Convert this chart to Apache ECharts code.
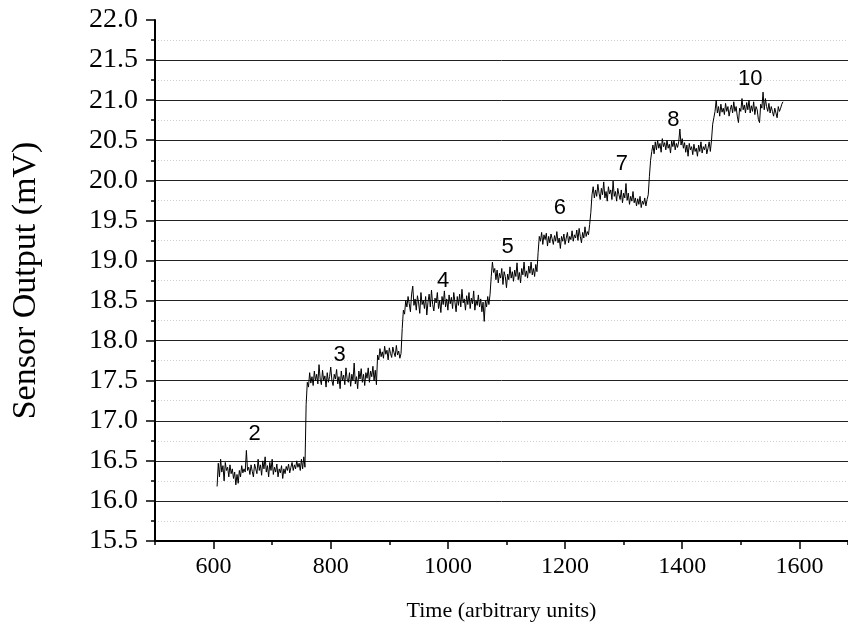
<!DOCTYPE html>
<html>
<head>
<meta charset="utf-8">
<script src="https://cdn.jsdelivr.net/npm/echarts@6/dist/echarts.min.js"></script>
<style>
html,body{margin:0;padding:0;background:#fff;}
#chart{width:848px;height:627px;}
</style>
</head>
<body>
<div id="chart"></div>
<script>
const sampleStart = 606;
const sampleInterval = 2;
const seg2 = [16.18,16.47,16.30,16.52,16.36,16.44,16.25,16.48,16.38,16.42,
  16.30,16.45,16.34,16.40,16.28,16.36,16.20,16.33,16.22,16.38,
  16.30,16.44,16.35,16.40,16.36,16.63,16.38,16.42,16.33,16.45,
  16.37,16.30,16.46,16.40,16.34,16.52,16.38,16.45,16.32,16.50,
  16.40,16.55,16.36,16.44,16.30,16.48,16.38,16.52,16.33,16.42,
  16.36,16.46,16.30,16.40,16.35,16.44,16.28,16.40,16.34,16.43,
  16.38,16.46,16.35,16.42,16.48,16.38,16.45,16.40,16.50,16.42,
  16.47,16.38,16.52,16.40,16.55,16.42];
const seg3 = [17.20,17.48,17.42,17.60,17.47,17.55,17.44,17.62,17.50,17.58,
  17.46,17.70,17.52,17.45,17.63,17.50,17.56,17.42,17.60,17.48,
  17.55,17.67,17.50,17.44,17.58,17.52,17.64,17.46,17.55,17.40,
  17.62,17.50,17.57,17.45,17.66,17.52,17.48,17.60,17.43,17.58,
  17.50,17.72,17.46,17.55,17.40,17.62,17.52,17.65,17.48,17.58,
  17.44,17.60,17.53,17.66,17.48,17.62,17.55,17.68,17.50,17.63,
  17.45];
const seg3b = [17.82,17.76,17.90,17.80,17.86,17.78,17.93,17.83,17.88,17.76,
  17.91,17.84,17.79,17.92,17.85,17.80,17.94,17.82,17.87,17.78,
  17.84];
const seg4 = [18.15,18.38,18.33,18.50,18.42,18.55,18.46,18.36,18.58,18.68,
  18.44,18.52,18.38,18.56,18.47,18.34,18.60,18.45,18.50,18.40,
  18.55,18.32,18.48,18.58,18.42,18.63,18.45,18.37,18.53,18.47,
  18.60,18.40,18.50,18.35,18.55,18.45,18.62,18.42,18.52,18.38,
  18.57,18.46,18.54,18.40,18.60,18.48,18.36,18.55,18.44,18.58,
  18.42,18.64,18.47,18.52,18.38,18.56,18.45,18.60,18.40,18.53,
  18.46,18.62,18.38,18.50,18.44,18.57,18.42,18.52,18.36,18.48,
  18.24,18.50,18.42,18.55,18.45,18.58];
const seg5 = [18.80,18.98,18.85,18.90,18.76,18.88,18.72,18.84,18.78,18.90,
  18.70,18.86,18.80,18.66,18.83,18.76,18.92,18.78,18.86,18.74,
  18.88,18.80,18.97,18.76,18.85,18.72,18.90,18.82,18.98,18.80,
  18.87,18.78,18.93,18.84,18.98,18.82,18.90,18.80,18.95,18.86];
const seg6 = [19.10,19.30,19.24,19.35,19.20,19.32,19.26,19.34,19.18,19.30,
  19.22,19.33,19.27,19.20,19.31,19.24,19.36,19.22,19.28,19.15,
  19.30,19.24,19.33,19.20,19.28,19.35,19.22,19.30,19.26,19.37,
  19.24,19.32,19.28,19.38,19.25,19.40,19.30,19.22,19.35,19.28,
  19.42,19.30,19.36,19.32,19.45];
const seg7 = [19.60,19.82,19.92,19.78,19.88,19.80,19.95,19.84,19.76,19.90,
  19.82,19.98,19.78,19.86,19.74,19.92,19.83,19.88,19.76,19.99,
  19.80,19.86,19.74,19.90,19.82,19.76,19.88,19.72,19.84,19.78,
  19.96,19.75,19.84,19.70,19.80,19.74,19.86,19.72,19.78,19.68,
  19.77,19.70,19.80,19.66,19.74,19.70,19.78,19.68,19.76,19.82];
const seg8 = [20.05,20.25,20.36,20.44,20.33,20.48,20.38,20.50,20.40,20.46,
  20.35,20.52,20.42,20.47,20.38,20.50,20.40,20.45,20.34,20.49,
  20.42,20.50,20.38,20.46,20.41,20.48,20.64,20.44,20.52,20.40,
  20.47,20.35,20.44,20.30,20.46,20.38,20.42,20.32,20.45,20.36,
  20.40,20.30,20.44,20.36,20.48,20.34,20.42,20.38,20.45,20.33,
  20.40,20.48,20.36,20.50];
const seg10 = [20.70,20.78,20.86,21.00,20.84,20.92,20.80,20.95,20.85,20.90,
  20.82,20.96,20.86,20.92,20.80,20.88,20.94,20.84,20.98,20.86,
  20.92,20.80,20.72,20.90,20.86,21.02,20.88,20.94,20.84,20.97,
  20.88,21.00,20.84,20.93,20.86,20.98,20.82,20.92,20.88,20.76,
  20.72,20.95,20.90,21.10,20.88,21.02,20.92,20.86,20.96,20.84,
  20.92,20.86,20.80,20.90,20.84,20.78,20.92,20.86,20.90,20.95,
  20.98];

const stepLabels = ['2','3','4','5','6','7','8','10'];
const labelX = [670, 815, 992, 1102, 1191, 1297, 1385, 1516];
const labelY = [16.83, 17.82, 18.75, 19.17, 19.66, 20.20, 20.75, 21.26];

const xMajorTicks = [600, 800, 1000, 1200, 1400, 1600];
const xMin = 500, xMax = 1683;
const yMin = 15.5, yMax = 22.0, yStep = 0.5;

const values = [].concat(seg2, seg3, seg3b, seg4, seg5, seg6, seg7, seg8, seg10);
const signal = values.map((v, i) => [sampleStart + i * sampleInterval, v]);
const annotations = stepLabels.map((t, i) => [labelX[i], labelY[i], t]);

const chart = echarts.init(document.getElementById('chart'), null, {renderer: 'canvas'});
const serif = '"Liberation Serif", "Times New Roman", serif';
chart.setOption({
  animation: false,
  backgroundColor: '#fff',
  grid: {left: 155, top: 20, right: 0, bottom: 82, containLabel: false},
  xAxis: [{
    type: 'value', min: xMin, max: xMax, interval: 100,
    name: 'Time (arbitrary units)', nameLocation: 'middle', nameGap: 59,
    nameTextStyle: {fontFamily: serif, fontSize: 22, color: '#000'},
    axisLine: {show: true, lineStyle: {color: '#000', width: 2}},
    axisTick: {show: true, inside: false, length: 4, lineStyle: {color: '#000', width: 1.5}},
    axisLabel: {show: false},
    splitLine: {show: false}
  }, {
    type: 'value', min: xMin, max: xMax, position: 'bottom',
    axisLine: {show: false},
    axisTick: {show: true, inside: false, length: 8, customValues: xMajorTicks, lineStyle: {color: '#000', width: 1.5}},
    axisLabel: {show: true, customValues: xMajorTicks, margin: 14, fontFamily: serif, fontSize: 24, color: '#000',
      formatter: v => String(v)},
    splitLine: {show: false}
  }],
  yAxis: {
    type: 'value', min: yMin, max: yMax, interval: yStep,
    name: 'Sensor Output (mV)', nameLocation: 'middle', nameGap: 112, nameRotate: 90,
    nameTextStyle: {fontFamily: serif, fontSize: 34, color: '#000'},
    axisLine: {show: true, lineStyle: {color: '#000', width: 2}},
    axisTick: {show: true, inside: false, length: 9, lineStyle: {color: '#000', width: 1.5}},
    minorTick: {show: true, splitNumber: 2, length: 4, lineStyle: {color: '#000', width: 1.5}},
    axisLabel: {margin: 17, fontFamily: serif, fontSize: 28, color: '#000', formatter: v => v.toFixed(1)},
    splitLine: {show: true, showMinLine: false, showMaxLine: false, lineStyle: {color: '#222', width: 1}},
    minorSplitLine: {show: true, lineStyle: {color: '#cfcfcf', width: 1, type: [1, 2]}}
  },
  series: [{
    type: 'line', data: signal, showSymbol: false, symbol: 'none',
    lineStyle: {color: '#000', width: 1}, z: 5
  }, {
    type: 'scatter', data: annotations, symbolSize: 0, silent: true,
    itemStyle: {opacity: 1},
    label: {show: true, position: 'inside', formatter: p => p.data[2], opacity: 1,
      fontFamily: '"Liberation Sans", Arial, sans-serif', fontSize: 22, color: '#000'}
  }]
});
</script>
</body>
</html>
